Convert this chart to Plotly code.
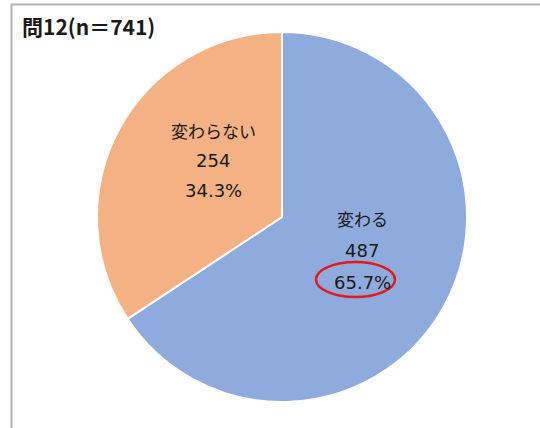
import plotly.graph_objects as go

W, H = 540, 428
categories = ["変わる", "変わらない"]
counts = [487, 254]
percents = ["65.7%", "34.3%"]
colors = ["#8faadc", "#f4b183"]
title_text = "問12(n＝741)"

def px(x):
    return x / W

def py(y):
    return 1 - y / H

cx, cy, R = 282, 217, 185

fig = go.Figure(go.Pie(
    labels=categories,
    values=counts,
    sort=False,
    direction="clockwise",
    rotation=0,
    marker=dict(colors=colors, line=dict(color="white", width=2)),
    textinfo="none",
    hoverinfo="label+value+percent",
    showlegend=False,
    domain=dict(x=[px(cx - R), px(cx + R)], y=[py(cy + R), py(cy - R)]),
))

cjk_font = dict(family="Noto Sans CJK JP, sans-serif", size=17, color="#1a1a1a")
num_font = dict(family="DejaVu Sans, sans-serif", size=18, color="#1a1a1a")
label_pos = [(362, 218, 32), (213, 130, 30)]
annotations = []
for (lx, ly, dy), cat, cnt, pct in zip(label_pos, categories, counts, percents):
    for i, (t, f) in enumerate([(cat, cjk_font), (str(cnt), num_font), (pct, num_font)]):
        annotations.append(dict(x=px(lx), y=py(ly + i * dy), xref="paper", yref="paper",
                                text=t, showarrow=False, font=f,
                                xanchor="center", yanchor="middle"))

annotations.append(dict(x=px(20), y=py(26), xref="paper", yref="paper", text="<b>" + title_text + "</b>",
                        showarrow=False, xanchor="left", yanchor="middle",
                        font=dict(family="Noto Sans CJK JP, sans-serif", size=21, color="#1a1a1a")))

shapes = [
    dict(type="rect", xref="paper", yref="paper", x0=px(11.5), x1=px(560), y0=py(4.5), y1=py(440),
         line=dict(color="#b3b3b3", width=2), fillcolor="rgba(0,0,0,0)"),
    dict(type="circle", xref="paper", yref="paper", x0=px(316), x1=px(395), y0=py(297), y1=py(262),
         line=dict(color="#e31a1c", width=2.5)),
]

fig.update_layout(width=W, height=H, margin=dict(l=0, r=0, t=0, b=0),
                  paper_bgcolor="white", plot_bgcolor="white",
                  annotations=annotations, shapes=shapes)

fig.write_html("out.html", config={"displayModeBar": False},
               post_script="document.body.style.margin='0';document.body.style.overflow='hidden';")
